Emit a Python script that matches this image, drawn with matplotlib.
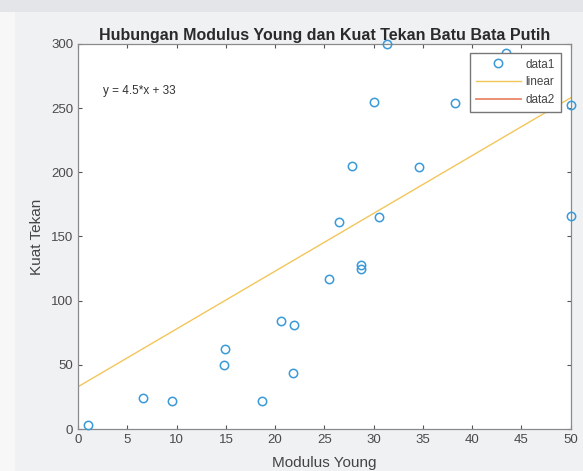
import numpy as np
import matplotlib
matplotlib.use("Agg")
import matplotlib.pyplot as plt
from matplotlib.patches import Rectangle

# data
modulus = [1.0, 6.6, 9.5, 14.9, 14.8, 18.7, 20.6, 21.9, 21.8, 25.5, 26.5,
           27.8, 28.7, 28.7, 30.5, 30.0, 31.3, 34.6, 38.3, 43.4, 50.0, 50.0]
kuat = [3, 24, 22, 62, 50, 22, 84, 81, 44, 117, 161,
        205, 128, 125, 165, 255, 300, 204, 254, 293, 252, 166]
slope = 4.5
intercept = 33
fit_x = [0, 50]

plt.rcParams['font.family'] = ['Liberation Sans', 'DejaVu Sans']

fig = plt.figure(figsize=(5.83, 4.71), dpi=100, facecolor='#f0f1f3')
fig.patches.append(Rectangle((0, 0.975), 1, 0.025, transform=fig.transFigure,
                             facecolor='#e4e5e8', edgecolor='none', zorder=0))
fig.patches.append(Rectangle((0, 0), 0.026, 0.975, transform=fig.transFigure,
                             facecolor='#f7f7f8', edgecolor='none', zorder=0))
ax = fig.add_axes([0.134, 0.089, 0.845, 0.818])

fit_y = [slope * x + intercept for x in fit_x]
ax.plot(modulus, kuat, 'o', mfc='none', mec='#3a9ad9', ms=6, mew=1.1,
        label='data1', clip_on=False, zorder=3)
ax.plot(fit_x, fit_y, color='#f3c65a', lw=1, label='linear')
ax.plot([], [], color='#e8866a', lw=1.3, label='data2')

ax.set_xlim(0, 50)
ax.set_ylim(0, 300)
ax.set_xticks(np.arange(0, 51, 5))
ax.set_yticks(np.arange(0, 301, 50))
ax.tick_params(direction='in', top=True, right=True, length=3,
               labelsize=9.5, colors='#555555', labelcolor='#4a4a4a')
for s in ax.spines.values():
    s.set_color('#8a8a8a')
    s.set_linewidth(0.9)

ax.set_title('Hubungan Modulus Young dan Kuat Tekan Batu Bata Putih',
             fontsize=11.5, fontweight='bold', color='#2a2a2a', pad=3)
ax.set_xlabel('Modulus Young', fontsize=11, color='#444444', labelpad=7)
ax.set_ylabel('Kuat Tekan', fontsize=11, color='#444444', labelpad=5)

ax.text(2.5, 263, 'y = 4.5*x + 33', fontsize=8.5, color='#333333', va='center')

leg = ax.legend(loc='upper right', bbox_to_anchor=(0.98, 0.977), fontsize=8.5,
                fancybox=False, framealpha=1, edgecolor='#777777',
                handlelength=3.8, borderpad=0.5, labelspacing=0.5,
                handletextpad=0.4, borderaxespad=0)
for t in leg.get_texts():
    t.set_color('#444444')

fig.savefig('out.png', dpi=100, facecolor=fig.get_facecolor())
